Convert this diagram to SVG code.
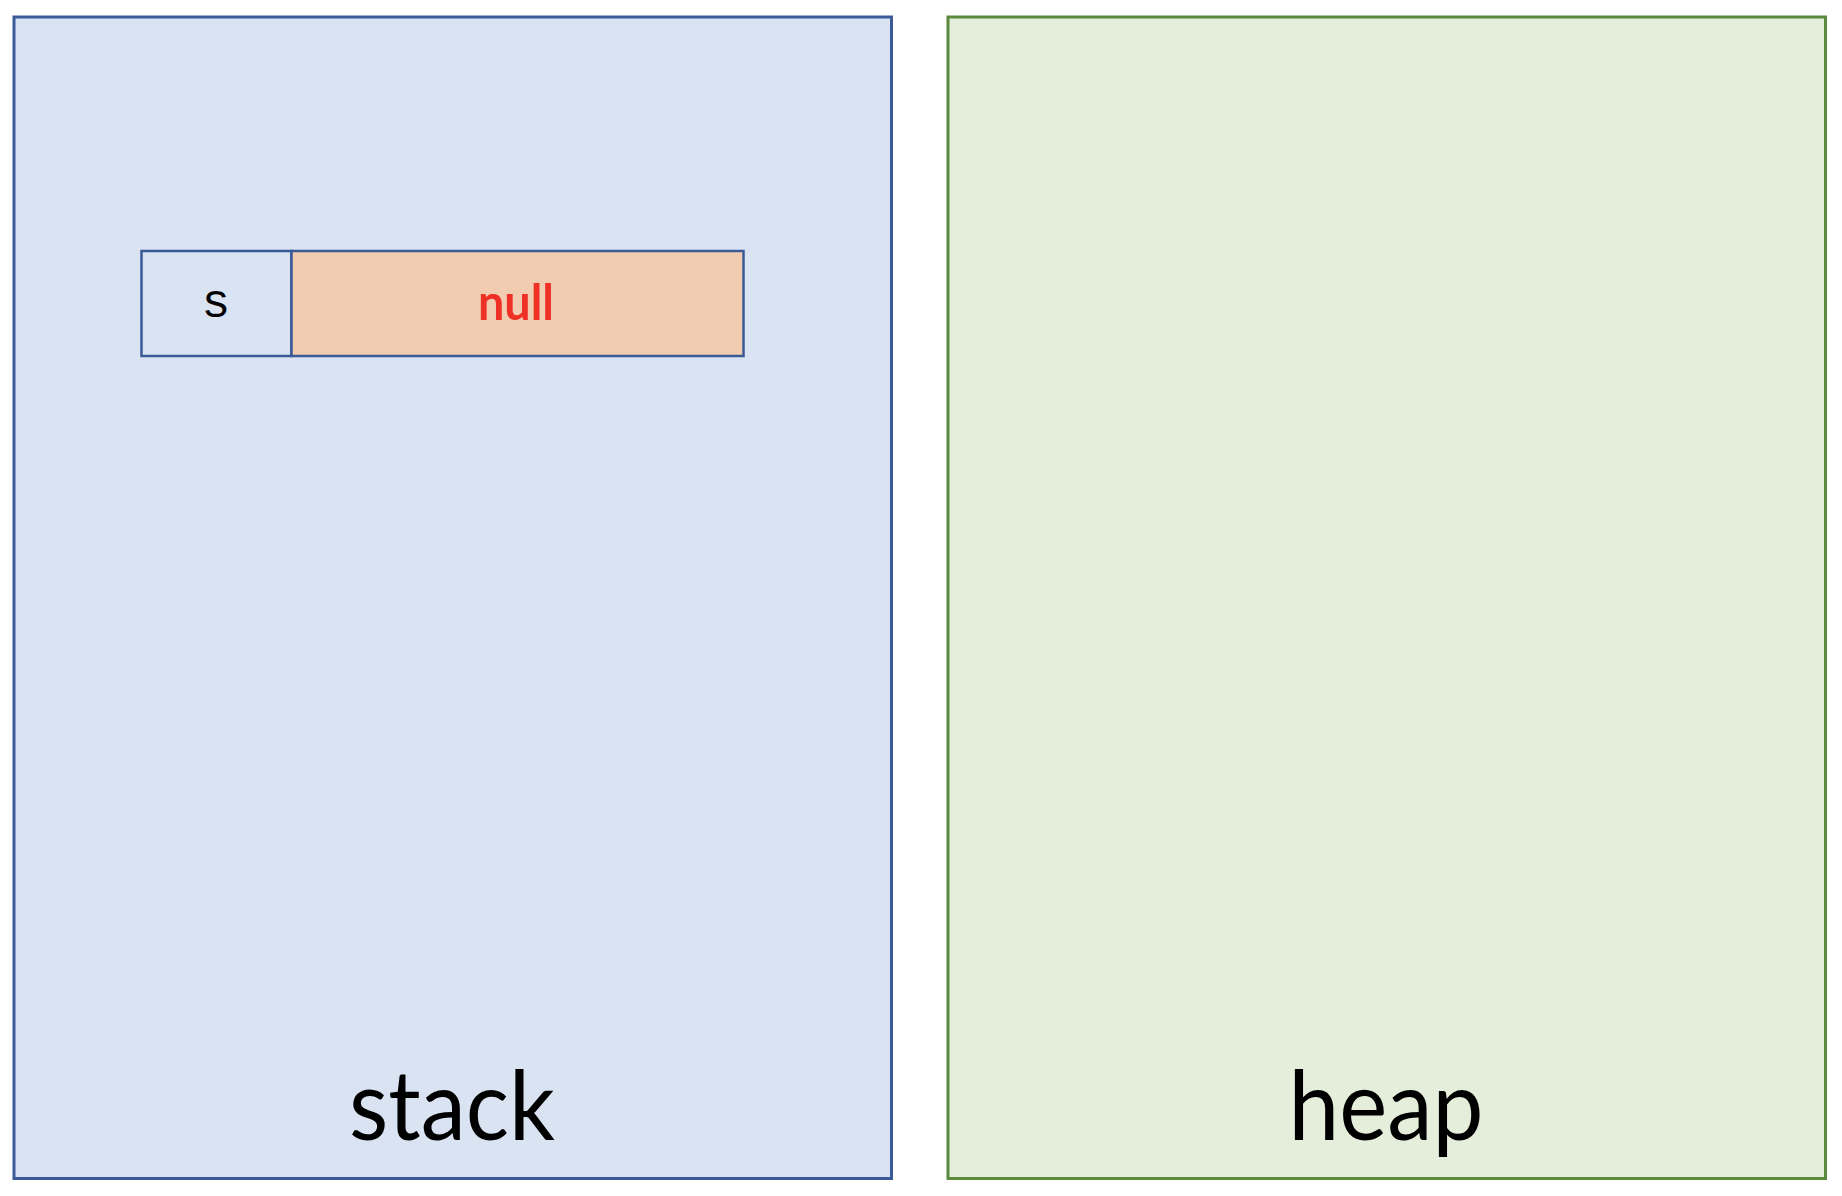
<svg xmlns="http://www.w3.org/2000/svg" width="1842" height="1196" viewBox="0 0 1842 1196">
<style>
.region{stroke-width:3}
.stack{fill:#DAE3F2;stroke:#3A5A98}
.heap{fill:#E4EEDB;stroke:#5B8A3E}
.cell{stroke:#3A5A98;stroke-width:2.5}
.big{font-family:Lato,"Open Sans",sans-serif;font-size:96px;fill:#000;text-anchor:middle}
</style>
<rect width="1842" height="1196" fill="#FFFFFF"/>
<g id="stack">
<rect class="region stack" x="14" y="17" width="877.5" height="1161.5"/>
<text class="big" x="452" y="1140" textLength="206" lengthAdjust="spacingAndGlyphs">stack</text>
</g>
<g id="heap">
<rect class="region heap" x="948" y="17" width="877.5" height="1161.5"/>
<text class="big" x="1386" y="1140" textLength="195" lengthAdjust="spacingAndGlyphs">heap</text>
</g>
<g id="var-s">
<rect class="cell" x="141.5" y="251" width="150" height="105" fill="#DAE3F2"/>
<text x="216" y="317" font-family="'Courier New','Liberation Mono',monospace" font-size="48" text-anchor="middle" fill="#000">s</text>
</g>
<g id="value-null">
<rect class="cell" x="291.5" y="251" width="452" height="105" fill="#F1CCB0"/>
<text x="516" y="320" font-family="Lato,'Open Sans',sans-serif" font-weight="bold" font-size="50" text-anchor="middle" fill="#EE3124" textLength="76" lengthAdjust="spacingAndGlyphs">null</text>
</g>
<g id="connectors"></g>
</svg>
